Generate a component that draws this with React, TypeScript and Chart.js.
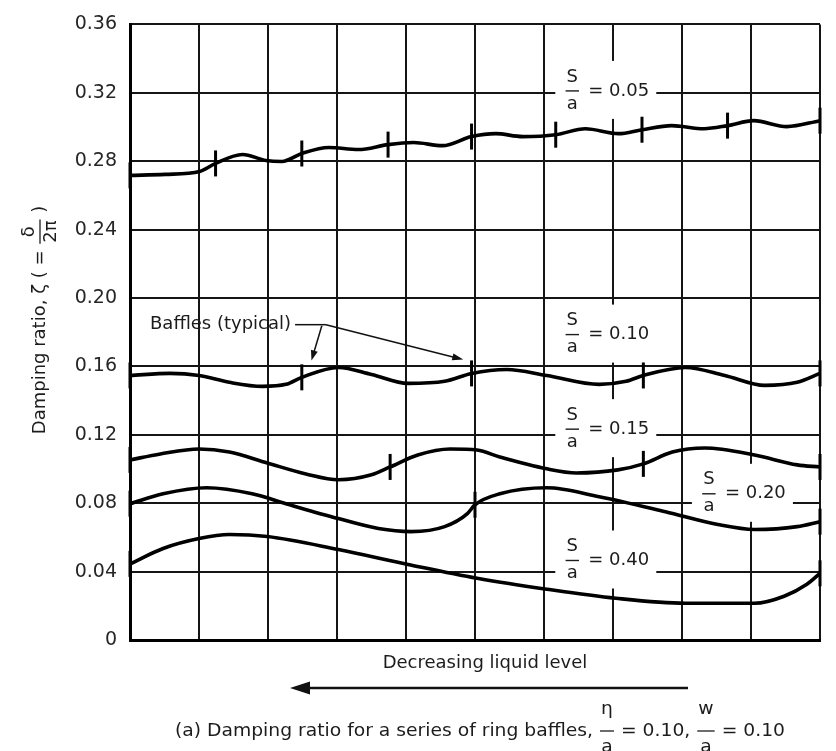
import React, { useEffect, useRef } from 'react';
import { Chart, registerables } from 'chart.js';

Chart.register(...registerables);

// ---------- data ----------
const xGrid = [0, 1, 2, 3, 4, 5, 6, 7, 8, 9, 10];
const yTickValues = [0, 0.04, 0.08, 0.12, 0.16, 0.2, 0.24, 0.28, 0.32, 0.36];
const yTickLabels = ['0', '0.04', '0.08', '0.12', '0.16', '0.20', '0.24', '0.28', '0.32', '0.36'];

// S/a = 0.05
const s05X = [0, 0.51, 1.01, 1.24, 1.63, 1.97, 2.2, 2.49, 2.88, 3.31, 3.74, 4.11, 4.53, 4.95, 5.3, 5.69, 6.17, 6.6, 7.08, 7.42, 7.85, 8.32, 8.66, 9.04, 9.52, 10];
const s05Y = [0.2717, 0.2723, 0.274, 0.2787, 0.2839, 0.2804, 0.2798, 0.2845, 0.288, 0.2868, 0.2897, 0.2909, 0.2891, 0.2944, 0.2961, 0.2944, 0.2955, 0.299, 0.2961, 0.2984, 0.3008, 0.299, 0.3008, 0.3037, 0.3002, 0.3037];
const s05Baffles = [0, 1.24, 2.49, 3.74, 4.95, 6.17, 7.42, 8.66, 10];

// S/a = 0.10
const s10X = [0, 0.58, 1.0, 1.44, 1.92, 2.26, 2.49, 3.02, 3.5, 4.03, 4.56, 4.95, 5.46, 6.04, 6.8, 7.19, 7.44, 8.05, 8.62, 9.2, 9.67, 10];
const s10Y = [0.1547, 0.1559, 0.1547, 0.1507, 0.1483, 0.1495, 0.1536, 0.1594, 0.1553, 0.1501, 0.1513, 0.1559, 0.1582, 0.1547, 0.1495, 0.1513, 0.1547, 0.1594, 0.1547, 0.1489, 0.1507, 0.1559];
const s10Baffles = [0, 2.49, 4.95, 7.44, 10];

// S/a = 0.15
const s15X = [0, 0.44, 1.0, 1.44, 1.99, 2.55, 3.02, 3.5, 3.77, 4.17, 4.64, 5.03, 5.36, 6.04, 6.47, 7.07, 7.44, 7.86, 8.33, 9.05, 9.67, 10];
const s15Y = [0.1053, 0.1088, 0.1117, 0.1099, 0.1035, 0.0971, 0.0937, 0.0966, 0.1012, 0.1082, 0.1117, 0.1111, 0.107, 0.1001, 0.0977, 0.0995, 0.103, 0.1099, 0.1123, 0.1082, 0.1024, 0.1012];
const s15Baffles = [0, 3.77, 7.44, 10];

// S/a = 0.20
const s20X = [0, 0.48, 1.11, 1.77, 2.26, 3.02, 3.6, 4.07, 4.56, 4.89, 5.0, 5.36, 6.04, 6.8, 7.76, 8.52, 9.05, 9.67, 10];
const s20Y = [0.0797, 0.0855, 0.089, 0.0855, 0.0797, 0.071, 0.0652, 0.0634, 0.0663, 0.0739, 0.0791, 0.0855, 0.089, 0.0838, 0.075, 0.0675, 0.0646, 0.0663, 0.0692];
const s20Baffles = [0, 5.0, 10];

// S/a = 0.40
const s40X = [0, 0.48, 1.0, 1.44, 1.99, 3.02, 4.03, 5.03, 6.04, 7.04, 8.05, 9.05, 9.48, 9.81, 10];
const s40Y = [0.0445, 0.0535, 0.0593, 0.0617, 0.0605, 0.0529, 0.0442, 0.0361, 0.0297, 0.0244, 0.0215, 0.0215, 0.0256, 0.0326, 0.039];
const s40Baffles = [0, 10];

const seriesLabels = ['0.05', '0.10', '0.15', '0.20', '0.40'];
const labelX = [6.41, 6.41, 6.41, 8.39, 6.41];
const labelY = [0.3211, 0.1786, 0.1233, 0.0855, 0.0465];

const baffleNote = 'Baffles (typical)';
const yTitleText = 'Damping ratio, ζ ( = ';
const yTitleFrac = { num: 'δ', den: '2π' };
const xTitleText = 'Decreasing liquid level';
const captionParts = ['(a) Damping ratio for a series of ring baffles, ', { num: 'η', den: 'a' }, ' = 0.10, ', { num: 'w', den: 'a' }, ' = 0.10'];

const FONT = '"DejaVu Sans", Arial, sans-serif';
const TEXT = '#1c1c1c';

type Frac = { num: string; den: string };

function fracWidth(ctx: CanvasRenderingContext2D, f: Frac) {
  return Math.max(ctx.measureText(f.num).width, ctx.measureText(f.den).width) + 4;
}

function drawSeq(
  ctx: CanvasRenderingContext2D,
  parts: (string | Frac)[],
  x: number,
  y: number,
  upOff: number,
  downOff: number,
) {
  let cx = x;
  ctx.textBaseline = 'middle';
  ctx.textAlign = 'left';
  for (const p of parts) {
    if (typeof p === 'string') {
      ctx.fillText(p, cx, y);
      cx += ctx.measureText(p).width;
    } else {
      const w = fracWidth(ctx, p);
      ctx.textAlign = 'center';
      ctx.fillText(p.num, cx + w / 2, y - upOff);
      ctx.fillText(p.den, cx + w / 2, y + downOff);
      ctx.textAlign = 'left';
      ctx.beginPath();
      ctx.moveTo(cx + 1, y);
      ctx.lineTo(cx + w - 1, y);
      ctx.stroke();
      cx += w;
    }
  }
  return cx - x;
}

function seqWidth(ctx: CanvasRenderingContext2D, parts: (string | Frac)[]) {
  let w = 0;
  for (const p of parts) w += typeof p === 'string' ? ctx.measureText(p).width : fracWidth(ctx, p);
  return w;
}

function arrow(ctx: CanvasRenderingContext2D, x1: number, y1: number, x2: number, y2: number, len: number, half: number) {
  const a = Math.atan2(y2 - y1, x2 - x1);
  ctx.beginPath();
  ctx.moveTo(x1, y1);
  ctx.lineTo(x2 - Math.cos(a) * len * 0.6, y2 - Math.sin(a) * len * 0.6);
  ctx.stroke();
  ctx.beginPath();
  ctx.moveTo(x2, y2);
  ctx.lineTo(x2 - Math.cos(a) * len - Math.sin(a) * half, y2 - Math.sin(a) * len + Math.cos(a) * half);
  ctx.lineTo(x2 - Math.cos(a) * len + Math.sin(a) * half, y2 - Math.sin(a) * len - Math.cos(a) * half);
  ctx.closePath();
  ctx.fill();
}

const decorPlugin = {
  id: 'decor',
  beforeDraw(chart: any) {
    const { ctx, width, height } = chart;
    ctx.save();
    ctx.fillStyle = '#fff';
    ctx.fillRect(0, 0, width, height);
    ctx.restore();
  },
  beforeDatasetsDraw(chart: any) {
    const ctx: CanvasRenderingContext2D = chart.ctx;
    const xs = chart.scales.x;
    const ys = chart.scales.y;
    ctx.save();
    // curve labels with white knock-outs over the grid
    seriesLabels.forEach((lab, i) => {
      const cx = xs.getPixelForValue(labelX[i]);
      const cy = ys.getPixelForValue(labelY[i]);
      ctx.fillStyle = '#fff';
      ctx.fillRect(cx - 17, cy - 30, 101, 58);
      ctx.fillStyle = TEXT;
      ctx.strokeStyle = TEXT;
      ctx.lineWidth = 1.4;
      ctx.font = `18px ${FONT}`;
      const f = { num: 'S', den: 'a' };
      const w = fracWidth(ctx, f);
      drawSeq(ctx, [f], cx - w / 2, cy, 14, 13);
      ctx.fillText('= ' + lab, cx + 16, cy);
    });
    // Baffles (typical) note
    ctx.font = `18px ${FONT}`;
    ctx.fillStyle = TEXT;
    ctx.textBaseline = 'middle';
    ctx.textAlign = 'left';
    const tx = xs.getPixelForValue(0.29);
    const ty = ys.getPixelForValue(0.1844);
    ctx.fillText(baffleNote, tx, ty);
    const tw = ctx.measureText(baffleNote).width;
    const jx = xs.getPixelForValue(2.84);
    ctx.strokeStyle = '#111';
    ctx.fillStyle = '#111';
    ctx.lineWidth = 1.5;
    ctx.beginPath();
    ctx.moveTo(tx + tw + 4, ty);
    ctx.lineTo(jx, ty);
    ctx.stroke();
    arrow(ctx, xs.getPixelForValue(2.78), ty + 1, xs.getPixelForValue(2.63), ys.getPixelForValue(0.1635), 10, 3.5);
    arrow(ctx, jx, ty, xs.getPixelForValue(4.83), ys.getPixelForValue(0.164), 11, 3.5);
    ctx.restore();
  },
  afterDraw(chart: any) {
    const ctx: CanvasRenderingContext2D = chart.ctx;
    ctx.save();
    ctx.fillStyle = TEXT;
    ctx.strokeStyle = TEXT;
    // y title (rotated)
    ctx.save();
    ctx.translate(40, 320);
    ctx.rotate(-Math.PI / 2);
    ctx.font = `18px ${FONT}`;
    ctx.lineWidth = 1.3;
    const parts: (string | Frac)[] = [yTitleText, yTitleFrac, ' )'];
    const w = seqWidth(ctx, parts);
    drawSeq(ctx, parts, -w / 2, 0, 11, 11);
    ctx.restore();

    // x title
    ctx.font = `18px ${FONT}`;
    ctx.textAlign = 'center';
    ctx.textBaseline = 'middle';
    ctx.fillText(xTitleText, 485, 663);

    // direction arrow
    ctx.fillStyle = '#111';
    ctx.strokeStyle = '#111';
    ctx.lineWidth = 2.5;
    arrow(ctx, 688, 688, 290, 688, 20, 6.5);

    // caption
    ctx.fillStyle = TEXT;
    ctx.strokeStyle = TEXT;
    ctx.lineWidth = 1.3;
    ctx.font = `18px ${FONT}`;
    const cw = seqWidth(ctx, captionParts);
    const scale = 610 / cw;
    ctx.save();
    ctx.translate(175, 731);
    ctx.scale(scale, 1);
    drawSeq(ctx, captionParts, 0, 0, 22, 16);
    ctx.restore();
    ctx.restore();
  },
};

function makeDataset(xs: number[], ys: number[], baffles: number[]) {
  return {
    data: xs.map((x, i) => ({ x, y: ys[i] })),
    borderColor: '#000',
    borderWidth: 3.6,
    cubicInterpolationMode: 'monotone' as const,
    fill: false,
    clip: false as const,
    pointStyle: 'line' as const,
    pointRotation: 90,
    pointBorderColor: '#000',
    pointBorderWidth: 3,
    pointRadius: (c: any) => (baffles.includes(xs[c.dataIndex]) ? 13 : 0),
    pointHoverRadius: (c: any) => (baffles.includes(xs[c.dataIndex]) ? 13 : 0),
  };
}

export default function App() {
  const ref = useRef<HTMLCanvasElement | null>(null);
  useEffect(() => {
    if (!ref.current) return;
    const chart = new Chart(ref.current, {
      type: 'line',
      data: {
        datasets: [
          makeDataset(s05X, s05Y, s05Baffles),
          makeDataset(s10X, s10Y, s10Baffles),
          makeDataset(s15X, s15Y, s15Baffles),
          makeDataset(s20X, s20Y, s20Baffles),
          makeDataset(s40X, s40Y, s40Baffles),
        ] as any,
      },
      options: {
        responsive: false,
        animation: false,
        events: [],
        layout: { padding: { left: 0, right: 10, top: 21, bottom: 0 } },
        plugins: { legend: { display: false }, tooltip: { enabled: false } },
        scales: {
          x: {
            type: 'linear',
            min: 0,
            max: 10,
            afterBuildTicks: (s: any) => {
              s.ticks = xGrid.map((v) => ({ value: v }));
            },
            afterFit: (s: any) => {
              s.height = 111;
            },
            ticks: { display: false },
            grid: { color: '#151515', lineWidth: 2, drawTicks: false },
            border: { display: true, color: '#000', width: 3 },
          },
          y: {
            type: 'linear',
            min: 0,
            max: 0.36,
            afterBuildTicks: (s: any) => {
              s.ticks = yTickValues.map((v) => ({ value: v }));
            },
            afterFit: (s: any) => {
              s.width = 130;
            },
            ticks: {
              padding: 13,
              color: '#262626',
              font: { family: FONT, size: 19 },
              callback: (_v: any, i: number) => yTickLabels[i],
            },
            grid: { color: '#151515', lineWidth: 2, drawTicks: false },
            border: { display: true, color: '#000', width: 3 },
          },
        },
      } as any,
      plugins: [decorPlugin],
    });
    return () => chart.destroy();
  }, []);
  return (
    <div style={{ position: 'absolute', left: 0, top: 0, width: 836, height: 751 }}>
      <canvas ref={ref} width={836} height={751} style={{ display: 'block', width: 836, height: 751 }} />
    </div>
  );
}
